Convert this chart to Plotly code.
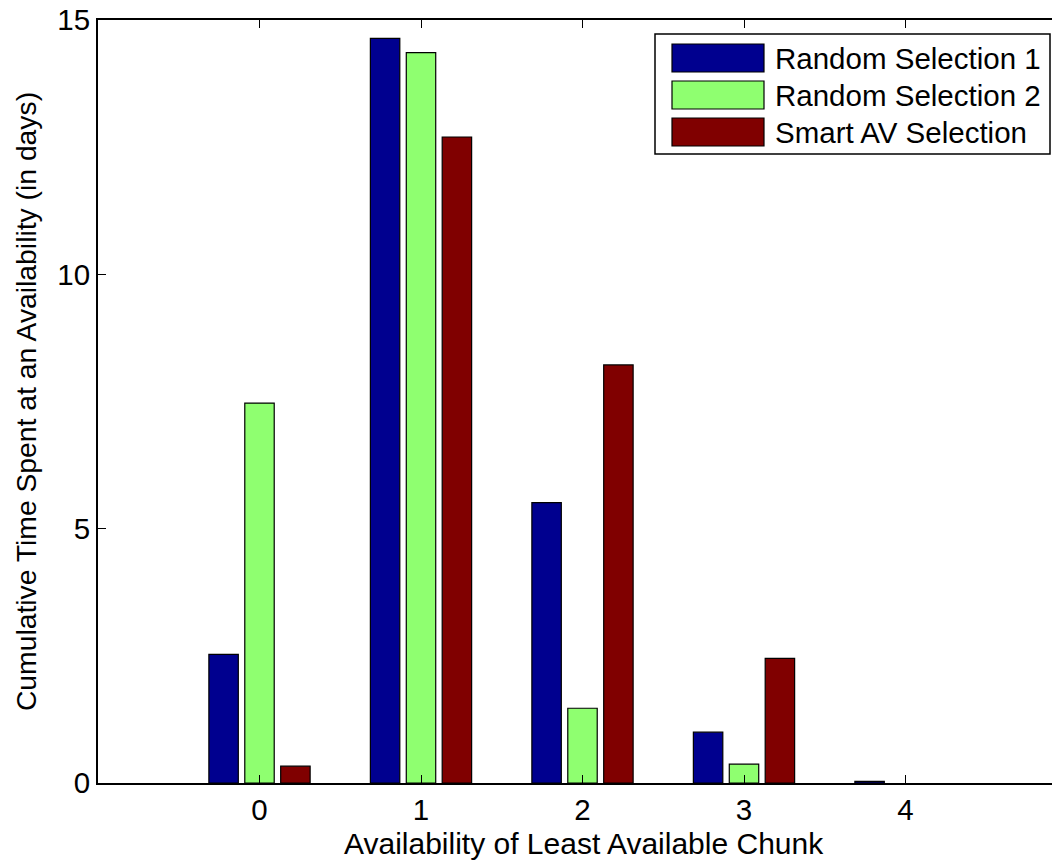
import plotly.graph_objects as go

categories = [0, 1, 2, 3, 4]
series_names = ["Random Selection 1", "Random Selection 2", "Smart AV Selection"]
random_sel_1 = [2.53, 14.64, 5.51, 1.00, 0.03]
random_sel_2 = [7.47, 14.36, 1.47, 0.37, 0.0]
smart_av_sel = [0.33, 12.70, 8.22, 2.45, 0.0]
colors = ["#00008F", "#8FFF70", "#800000"]
y_ticks = [0, 5, 10, 15]
x_title = "Availability of Least Available Chunk"
y_title = "Cumulative Time Spent at an Availability (in days)"

W, H = 1052, 861
ML, MR, MT, MB = 98, 0, 20, 78
FONT = "Liberation Sans, Arial, Helvetica, sans-serif"
FS = 29.5

fig = go.Figure()
for name, vals, col in zip(series_names, [random_sel_1, random_sel_2, smart_av_sel], colors):
    fig.add_trace(go.Bar(
        x=categories, y=vals, name=name,
        marker=dict(color=col, line=dict(color="black",
                                         width=[1.2 if v != 0 else 0 for v in vals])),
        showlegend=False,
    ))

pw = W - ML - MR
ph = H - MT - MB


def px2x(px):
    return (px - ML) / pw


def py2y(py):
    return (H - MB - py) / ph


shapes = []
annotations = []
# legend box
shapes.append(dict(type="rect", xref="paper", yref="paper",
                   x0=px2x(655), x1=px2x(1050), y0=py2y(154), y1=py2y(34),
                   line=dict(color="black", width=1.5), fillcolor="white", layer="above"))
row_centers = [58, 95, 132]
for name, col, cy in zip(series_names, colors, row_centers):
    shapes.append(dict(type="rect", xref="paper", yref="paper",
                       x0=px2x(672), x1=px2x(764), y0=py2y(cy + 14), y1=py2y(cy - 14),
                       line=dict(color="black", width=1.2), fillcolor=col, layer="above"))
    annotations.append(dict(xref="paper", yref="paper", x=px2x(773), y=py2y(cy),
                            text=name, showarrow=False, xanchor="left", yanchor="middle",
                            font=dict(family=FONT, size=FS, color="black")))

# x-axis title (the original axis extends past the cropped right edge, so centre manually)
annotations.append(dict(xref="paper", yref="paper", x=px2x(584), y=py2y(843),
                        text=x_title, showarrow=False, xanchor="center", yanchor="middle",
                        font=dict(family=FONT, size=30, color="black")))

fig.update_layout(
    width=W, height=H,
    margin=dict(l=ML, r=MR, t=MT, b=MB, pad=0),
    paper_bgcolor="white", plot_bgcolor="white",
    barmode="group", bargap=0.333, bargroupgap=0.18,
    font=dict(family=FONT, size=FS, color="black"),
    shapes=shapes, annotations=annotations,
    xaxis=dict(
        range=[-1, -1 + pw / 161.5],
        tickmode="array", tickvals=categories, ticktext=[str(c) for c in categories],
        ticks="inside", ticklen=8, tickwidth=1.2, tickcolor="black",
        showline=True, linecolor="black", linewidth=2, mirror="ticks",
        showgrid=False, zeroline=False,
        ticklabelstandoff=0,
        tickfont=dict(family=FONT, size=FS),
    ),
    yaxis=dict(
        range=[0, 15],
        tickmode="array", tickvals=y_ticks, ticktext=[str(v) for v in y_ticks],
        ticks="inside", ticklen=8, tickwidth=1.2, tickcolor="black",
        showline=True, linecolor="black", linewidth=2, mirror=False,
        showgrid=False, zeroline=False,
        ticklabelstandoff=0,
        title=dict(text=y_title, standoff=12,
                   font=dict(family=FONT, size=28.3)),
        tickfont=dict(family=FONT, size=FS),
    ),
)

fig.write_html("out.html")
